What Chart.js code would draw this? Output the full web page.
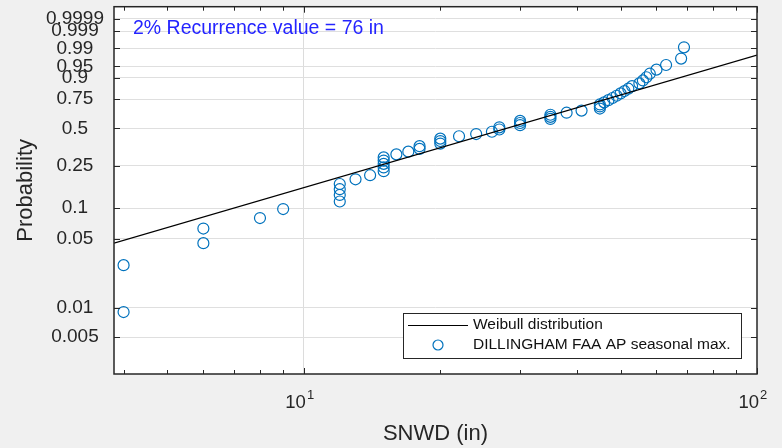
<!DOCTYPE html>
<html>
<head>
<meta charset="utf-8">
<script src="https://cdn.jsdelivr.net/npm/chart.js@4"></script>
<style>
  html, body { margin: 0; padding: 0; background: #f0f0f0; }
</style>
</head>
<body>
<canvas id="wblChart" width="782" height="448"></canvas>
<script>
// Seasonal max snow depth (in), sorted, with the probability each one is plotted at
const snwd = [4, 4, 6, 6, 8, 9, 12, 12, 12, 12, 13, 14, 15, 15, 15, 15, 15, 16, 17, 18,
              18, 20, 20, 20, 22, 24, 26, 27, 27, 30, 30, 30, 35, 35, 35, 38, 41, 45, 45, 45,
              46, 47, 48, 49, 50, 51, 52, 53, 55, 56, 57, 58, 60, 63, 68, 69];
const prob = [0.009, 0.027, 0.045, 0.063, 0.080, 0.098, 0.116, 0.134, 0.152, 0.170,
              0.188, 0.205, 0.223, 0.241, 0.259, 0.277, 0.295, 0.313, 0.330, 0.348,
              0.366, 0.384, 0.402, 0.420, 0.438, 0.455, 0.473, 0.491, 0.509, 0.527,
              0.545, 0.563, 0.580, 0.598, 0.616, 0.634, 0.652, 0.670, 0.688, 0.705,
              0.723, 0.741, 0.759, 0.777, 0.795, 0.813, 0.830, 0.848, 0.866, 0.884,
              0.902, 0.920, 0.938, 0.955, 0.973, 0.991];

// Fitted Weibull line, read at its two ends
const fitX = [3.81, 100];
const fitP = [0.045, 0.98];

// Axis ticks
const yTickProbs  = [0.005, 0.01, 0.05, 0.1, 0.25, 0.5, 0.75, 0.9, 0.95, 0.99, 0.999, 0.9999];
const yTickLabels = ['0.005', '0.01', '0.05', '0.1', '0.25', '0.5', '0.75', '0.9', '0.95', '0.99', '0.999', '0.9999'];
const xTickVals   = [4, 5, 6, 7, 8, 9, 10, 20, 30, 40, 50, 60, 70, 80, 90, 100];
const xDecades    = [10, 100];        // labelled as 10^exp
const xExponents  = ['1', '2'];

const noteText = '2% Recurrence value = 76 in';
const FONT = "'Liberation Sans', Arial, sans-serif";
const AXIS = '#262626';

// Weibull probability paper: y = ln(-ln(1-p))
function wbl(p) { return Math.log(-Math.log(1 - p)); }

const frame = {
    id: 'frame',
    beforeDraw(chart) {
        const { ctx, chartArea: a } = chart;
        ctx.save();
        ctx.fillStyle = '#f0f0f0';
        ctx.fillRect(0, 0, chart.width, chart.height);
        ctx.fillStyle = '#ffffff';
        ctx.fillRect(a.left, a.top, a.right - a.left, a.bottom - a.top);
        ctx.restore();
    },
    afterDraw(chart) {
        const { ctx, chartArea: a } = chart;
        const xs = chart.scales.x, ys = chart.scales.y;
        ctx.save();
        ctx.strokeStyle = AXIS;
        ctx.lineWidth = 1;
        // inward tick marks on all four sides
        ctx.beginPath();
        xTickVals.forEach(v => {
            const px = Math.round(xs.getPixelForValue(v)) + 0.5;
            const len = xDecades.includes(v) ? 6 : 4;
            ctx.moveTo(px, a.bottom); ctx.lineTo(px, a.bottom - len);
            ctx.moveTo(px, a.top);    ctx.lineTo(px, a.top + len);
        });
        yTickProbs.forEach(p => {
            const py = Math.round(ys.getPixelForValue(wbl(p))) + 0.5;
            ctx.moveTo(a.left, py);  ctx.lineTo(a.left + 6, py);
            ctx.moveTo(a.right, py); ctx.lineTo(a.right - 6, py);
        });
        ctx.stroke();
        // axes box
        ctx.lineWidth = 1.5;
        ctx.strokeRect(a.left, a.top, a.right - a.left, a.bottom - a.top);

        // decade labels 10^n with a raised exponent
        ctx.fillStyle = AXIS;
        ctx.textBaseline = 'alphabetic';
        xDecades.forEach((v, i) => {
            const px = xs.getPixelForValue(v);
            ctx.font = '18.5px ' + FONT;
            ctx.textAlign = 'right';
            ctx.fillText('10', px + 2, a.bottom + 34);
            ctx.font = '13px ' + FONT;
            ctx.textAlign = 'left';
            ctx.fillText(xExponents[i], px + 3, a.bottom + 25);
        });

        // recurrence note
        ctx.fillStyle = '#2424ff';
        ctx.font = '19.5px ' + FONT;
        ctx.textAlign = 'left';
        ctx.fillText(noteText, a.left + 19, a.top + 27);

        // legend box, lower right inside the axes
        const lw = 338, lh = 45;
        const lx = a.right - 16 - lw, ly = a.bottom - 16 - lh;
        ctx.fillStyle = '#ffffff';
        ctx.fillRect(lx, ly, lw, lh);
        ctx.lineWidth = 1;
        ctx.strokeStyle = AXIS;
        ctx.strokeRect(lx + 0.5, ly + 0.5, lw, lh);
        const ds = chart.data.datasets;
        ctx.beginPath();
        ctx.strokeStyle = '#000';
        ctx.moveTo(lx + 5, ly + 12.5); ctx.lineTo(lx + 65, ly + 12.5);
        ctx.stroke();
        ctx.beginPath();
        ctx.strokeStyle = ds[1].borderColor;
        ctx.lineWidth = 1.2;
        ctx.arc(lx + 35, ly + 32, 5, 0, Math.PI * 2);
        ctx.stroke();
        ctx.fillStyle = '#111';
        ctx.font = '15.5px ' + FONT;
        ctx.textBaseline = 'middle';
        ctx.fillText(ds[0].label, lx + 70, ly + 12);
        ctx.fillText(ds[1].label, lx + 70, ly + 32);
        ctx.restore();
    }
};

new Chart(document.getElementById('wblChart'), {
    type: 'scatter',
    data: {
        datasets: [
            {
                label: 'Weibull distribution',
                data: fitX.map((x, i) => ({ x: x, y: wbl(fitP[i]) })),
                showLine: true,
                borderColor: '#000000',
                borderWidth: 1.2,
                pointRadius: 0,
                fill: false
            },
            {
                label: 'DILLINGHAM FAA AP seasonal max.',
                data: snwd.map((x, i) => ({ x: x, y: wbl(prob[i]) })),
                pointStyle: 'circle',
                pointRadius: 5.5,
                borderColor: 'rgb(0, 114, 189)',
                backgroundColor: 'rgba(0, 0, 0, 0)',
                borderWidth: 1.2
            }
        ]
    },
    options: {
        responsive: false,
        animation: false,
        layout: { padding: { left: 0, right: 25, top: 3, bottom: 0 } },
        plugins: {
            legend: { display: false },
            tooltip: { enabled: false }
        },
        scales: {
            x: {
                type: 'logarithmic',
                min: 3.81,
                max: 100,
                afterBuildTicks: s => { s.ticks = xTickVals.map(v => ({ value: v })); },
                afterFit: s => { s.height = 74; s.paddingLeft = 0; s.paddingRight = 0; },
                ticks: {
                    autoSkip: false,
                    maxRotation: 0,
                    font: { family: FONT, size: 19 },
                    callback: () => ''      // decade labels drawn with exponents in the plugin
                },
                grid: {
                    drawTicks: false,
                    color: c => (c.tick && c.tick.value === 10) ? '#dcdcdc' : 'rgba(0,0,0,0)'
                },
                border: { display: false },
                title: {
                    display: true,
                    text: 'SNWD (in)',
                    color: AXIS,
                    font: { family: FONT, size: 22 },
                    padding: { top: 0, bottom: 1 }
                }
            },
            y: {
                type: 'linear',
                min: -6.17,    // p ~ 0.0021
                max: 2.51,     // p ~ 0.999996
                afterBuildTicks: s => { s.ticks = yTickProbs.map(p => ({ value: wbl(p) })); },
                afterFit: s => { s.width = 114; s.paddingTop = 0; s.paddingBottom = 0; },
                ticks: {
                    autoSkip: false,
                    crossAlign: 'center',
                    padding: 10,
                    color: AXIS,
                    font: { family: FONT, size: 19 },
                    callback: (v, i) => yTickLabels[i]
                },
                grid: { drawTicks: false, color: '#dfdfdf' },
                border: { display: false },
                title: {
                    display: true,
                    text: 'Probability',
                    color: AXIS,
                    font: { family: FONT, size: 22 },
                    padding: { top: 13, bottom: 0 }
                }
            }
        }
    },
    plugins: [frame]
});
</script>
</body>
</html>
